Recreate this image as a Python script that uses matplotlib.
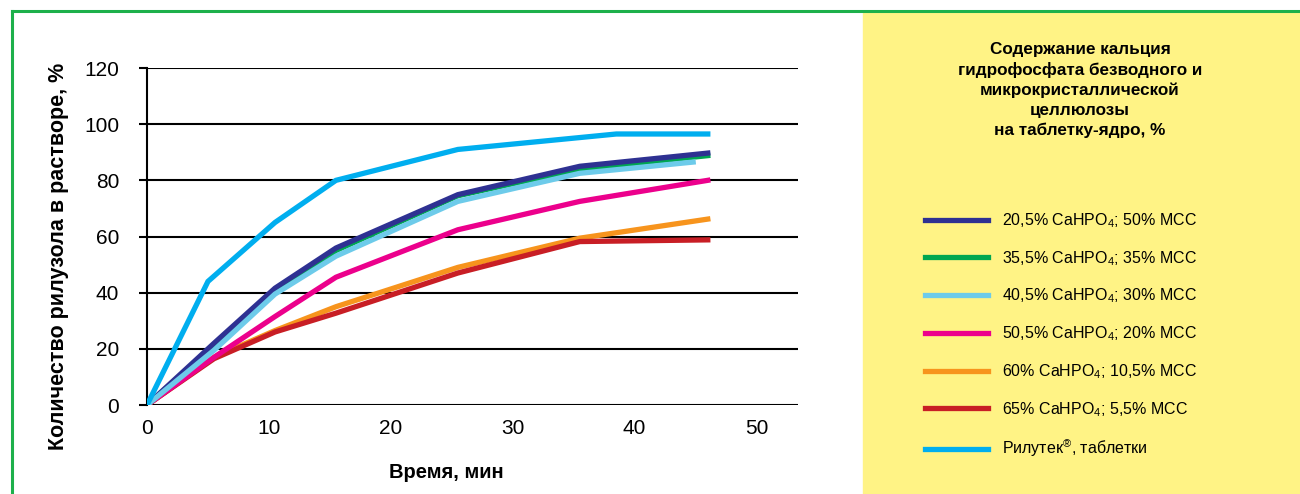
import matplotlib
matplotlib.use("Agg")
import matplotlib.pyplot as plt
from matplotlib.lines import Line2D
from matplotlib.patches import Rectangle

plt.rcParams['font.family'] = ['Liberation Sans Narrow', 'Liberation Sans', 'DejaVu Sans']
plt.rcParams['mathtext.fontset'] = 'custom'
plt.rcParams['mathtext.rm'] = 'Liberation Sans'
plt.rcParams['mathtext.it'] = 'Liberation Sans'

# время, мин (точки отбора проб)
t = [0, 5.5, 10.5, 15.5, 25.5, 35.5, 46]
t_lb = [0, 5.5, 10.5, 15.5, 25.5, 35.5, 44.8]
t_ril = [0, 5, 10.5, 15.5, 25.5, 38.5, 46]

s_205 = [0, 22, 41.6, 55.9, 74.9, 85, 89.7]
s_355 = [0, 21, 40.5, 55, 74.5, 84, 88.8]
s_405 = [0, 19.5, 39.5, 53, 72.5, 82.5, 86.5]
s_505 = [0, 17, 31.5, 45.5, 62.4, 72.5, 80]
s_60 = [0, 17, 26.5, 35, 49, 59.4, 66.2]
s_65 = [0, 16.5, 26, 32.7, 47, 58.2, 58.8]
s_ril = [0, 44, 65, 80, 91, 96.5, 96.5]

labels = [
    "20,5% CaHPO$_4$; 50% MCC",
    "35,5% CaHPO$_4$; 35% MCC",
    "40,5% CaHPO$_4$; 30% MCC",
    "50,5% CaHPO$_4$; 20% MCC",
    "60% CaHPO$_4$; 10,5% MCC",
    "65% CaHPO$_4$; 5,5% MCC",
    "Рилутек$^{®}$, таблетки",
]
colors = ["#2E3192", "#00A651", "#6DCBEA", "#EC008C", "#F7941D", "#C81E25", "#00AEEF"]

fig = plt.figure(figsize=(13, 4.94), dpi=100)

# жёлтая панель справа и зелёная рамка
fig.add_artist(Rectangle((863 / 1300, 0), 437 / 1300, 481 / 494,
                         transform=fig.transFigure, color="#FFF385", zorder=0))
fig.add_artist(Line2D([11.5 / 1300, 11.5 / 1300], [0, 482.5 / 494], transform=fig.transFigure,
                      color="#1DB04B", lw=2.2))
fig.add_artist(Line2D([11.5 / 1300, 1], [482.5 / 494, 482.5 / 494], transform=fig.transFigure,
                      color="#1DB04B", lw=2.2))

ax = fig.add_axes([147 / 1300, 89 / 494, 651 / 1300, 337 / 494])

xs = [t, t, t_lb, t, t, t, t_ril]
ys = [s_205, s_355, s_405, s_505, s_60, s_65, s_ril]
order = [4, 5, 3, 1, 0, 2, 6]
handles = [None] * 7
for i in order:
    handles[i], = ax.plot(xs[i], ys[i], color=colors[i], lw=3.8, label=labels[i],
                          solid_joinstyle='miter', zorder=3 + order.index(i))

ax.set_xlim(0, 53.4)
ax.set_ylim(0, 120)
ax.set_yticks(range(0, 121, 20))
ax.set_xticks(range(0, 51, 10))
ax.set_xticks([0], minor=True)
ax.grid(axis='y', color='black', lw=1.5, zorder=1)
for s in ['top', 'right', 'bottom']:
    ax.spines[s].set_visible(False)
ax.spines['left'].set_linewidth(1.5)
ax.tick_params(axis='y', length=6, width=1.5, labelsize=15, pad=14)
ax.tick_params(axis='x', which='major', length=0, labelsize=15, pad=10)
ax.tick_params(axis='x', which='minor', length=7, width=1.5)

ax.set_ylabel("Количество рилузола в растворе, %", fontsize=15.5, fontweight='bold',
              family=['Liberation Sans', 'DejaVu Sans'])
ax.set_xlabel("Время, мин", fontsize=14.5, fontweight='bold',
              family=['Liberation Sans', 'DejaVu Sans'])
ax.yaxis.set_label_coords(-0.12, 0.44)
ax.xaxis.set_label_coords(0.46, -0.172)

fig.text(1080 / 1300, 1 - 90 / 494,
         "Содержание кальция\nгидрофосфата безводного и\nмикрокристаллической\nцеллюлозы\nна таблетку-ядро, %",
         ha='center', va='center', fontsize=12.3, fontweight='bold', linespacing=1.38,
         family=['Liberation Sans', 'DejaVu Sans'])

fig.legend(handles=handles, labels=labels, loc='upper left',
           bbox_to_anchor=(911 / 1300, 1 - 197 / 494), frameon=False,
           fontsize=11.5, handlelength=3.95, handletextpad=0.85, labelspacing=1.19)

fig.savefig("out.png", dpi=100)
